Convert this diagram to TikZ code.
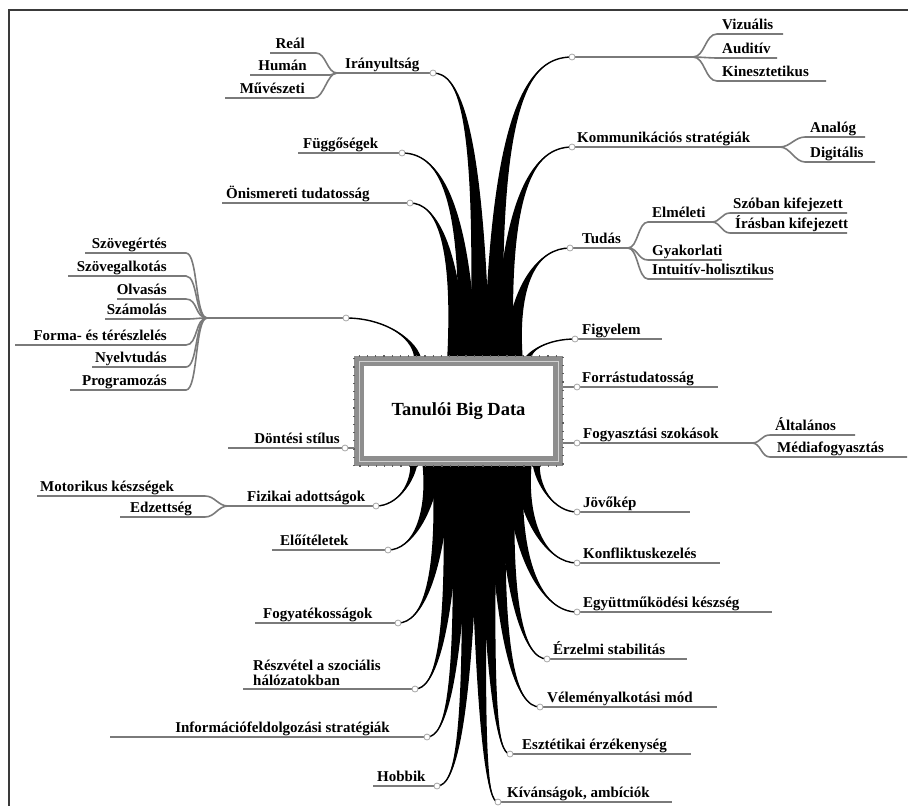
\documentclass[tikz,border=0pt]{standalone}
\usepackage{fontspec}
\setmainfont{Liberation Serif}
\usetikzlibrary{calc}
\definecolor{ulgray}{HTML}{7A7A7A}
\definecolor{boxgray}{HTML}{8E8E8E}
\definecolor{dotgray}{HTML}{5E5E5E}
\definecolor{framegray}{HTML}{3A3A3A}
\newcommand\strand[4]{%
  \fill[trunk] let \p1=(#1), \p2=(#2) in
    ({\x1-#3pt},\y1) .. controls ({\x1-0.35*#3pt},{\y1+#4*(\y2-\y1)}) and ({\x1+0.45*(\x2-\x1)},\y2) .. (\x2,\y2)
    .. controls ({\x1+0.45*(\x2-\x1)},\y2) and ({\x1+0.35*#3pt},{\y1+#4*(\y2-\y1)}) .. ({\x1+#3pt},\y1) -- cycle;
  \draw[trunkline] let \p1=(#1), \p2=(#2) in
    (\x1,\y1) .. controls (\x1,{\y1+#4*(\y2-\y1)}) and ({\x1+0.45*(\x2-\x1)},\y2) .. (\x2,\y2);
}
\begin{document}
\begin{tikzpicture}[x=1pt,y=-1pt,
  lbl/.style={font=\fontsize{15}{15}\selectfont\bfseries, inner sep=0pt},
  ul/.style={draw=ulgray, line width=1.6pt},
  trunk/.style={fill=black},
  trunkline/.style={draw=black, line width=1.4pt},
  dotc/.style={circle, minimum size=6pt, inner sep=0pt, fill=white, draw=gray!70, line width=0.8pt},
  frame/.style={draw=framegray, line width=2pt}
]
\useasboundingbox (0,0) rectangle (908,806);
\draw[frame] (9,806) -- (9,10) -- (908,10);

% ---------- circle positions ----------
\coordinate (cIr) at (433,73);
\coordinate (cFug) at (402,153);
\coordinate (cOni) at (410,203);
\coordinate (cSz) at (346,318);
\coordinate (cDon) at (345,448);
\coordinate (cFiz) at (376,506);
\coordinate (cElo) at (388,550);
\coordinate (cFgy) at (398,623);
\coordinate (cRes) at (415,689);
\coordinate (cInf) at (427,737);
\coordinate (cHob) at (437,786);
\coordinate (cViz) at (572,57);
\coordinate (cKom) at (572,147);
\coordinate (cTud) at (570,248);
\coordinate (cFig) at (575,339);
\coordinate (cFor) at (577,387);
\coordinate (cFog) at (577,443);
\coordinate (cJov) at (577,512);
\coordinate (cKon) at (577,563);
\coordinate (cEgy) at (577,612);
\coordinate (cErz) at (547,659);
\coordinate (cVel) at (540,707);
\coordinate (cEsz) at (510,754);
\coordinate (cKiv) at (498,802);

% ---------- strand starts on the box ----------
\coordinate (sIr) at (480,362);
\coordinate (sFug) at (467,362);
\coordinate (sOni) at (457,362);
\coordinate (sViz) at (494,362);
\coordinate (sKom) at (504,362);
\coordinate (sTud) at (513,362);
\coordinate (sSz) at (418,362);
\coordinate (sFig) at (527,362);
\coordinate (sFiz) at (414,460);
\coordinate (sElo) at (432,460);
\coordinate (sFgy) at (442,460);
\coordinate (sRes) at (452,460);
\coordinate (sInf) at (461,460);
\coordinate (sHob) at (470,460);
\coordinate (sKiv) at (479,460);
\coordinate (sEsz) at (488,460);
\coordinate (sVel) at (497,460);
\coordinate (sErz) at (506,460);
\coordinate (sEgy) at (514,460);
\coordinate (sKon) at (522,460);
\coordinate (sJov) at (536,460);

% ---------- trunk strands ----------
\strand{sIr}{cIr}{10}{0.85}
\strand{sFug}{cFug}{10}{0.8}
\strand{sOni}{cOni}{10}{0.75}
\strand{sViz}{cViz}{10}{0.85}
\strand{sKom}{cKom}{10}{0.8}
\strand{sTud}{cTud}{10}{0.7}
\strand{sSz}{cSz}{4}{0.5}
\strand{sFig}{cFig}{4}{0.5}
\strand{sFiz}{cFiz}{4}{0.5}
\strand{sElo}{cElo}{10}{0.6}
\strand{sFgy}{cFgy}{10}{0.72}
\strand{sRes}{cRes}{10}{0.78}
\strand{sInf}{cInf}{10}{0.82}
\strand{sHob}{cHob}{10}{0.85}
\strand{sKiv}{cKiv}{10}{0.85}
\strand{sEsz}{cEsz}{10}{0.82}
\strand{sVel}{cVel}{10}{0.78}
\strand{sErz}{cErz}{10}{0.72}
\strand{sEgy}{cEgy}{10}{0.66}
\strand{sKon}{cKon}{10}{0.6}
\strand{sJov}{cJov}{4}{0.5}

% ---------- central box ----------
\node (box) [minimum width=199pt, minimum height=100pt, inner sep=0pt, draw=boxgray, line width=10pt, fill=white,
  font=\fontsize{18.5}{20}\selectfont\bfseries] at (458.5,411) {Tanulói Big Data};
\draw[dotgray, line width=1.2pt, dash pattern=on 1.2pt off 7pt] (box.south west) rectangle (box.north east);
\draw[draw=gray!35, line width=0.8pt] ($(box.south west)+(5,-5)$) rectangle ($(box.north east)+(-5,5)$);

% ---------- Irányultság ----------
\coordinate (F1) at (337,73);
\draw[ul] (F1) -- (cIr);
\node[lbl, anchor=base west] (tIr) at (345,68) {Irányultság};
\coordinate (a1) at (316,53); \coordinate (b1) at (270,53);
\coordinate (a2) at (330,75); \coordinate (b2) at (250,75);
\coordinate (a3) at (314,98); \coordinate (b3) at (225,98);
\draw[ul] (F1) .. controls +(-10,0) and +(10,0) .. (a1) -- (b1);
\draw[ul] (F1) .. controls +(-3,0) and +(3,0) .. (a2) -- (b2);
\draw[ul] (F1) .. controls +(-10,0) and +(10,0) .. (a3) -- (b3);
\node[lbl, anchor=base east] (tReal) at (305,48) {Reál};
\node[lbl, anchor=base east] (tHum) at (307,70) {Humán};
\node[lbl, anchor=base east] (tMuv) at (305,93) {Művészeti};

% ---------- Függőségek, Önismereti ----------
\coordinate (bFug) at (298,153);
\draw[ul] (cFug) -- (bFug);
\node[lbl, anchor=base west] (tFug) at (303,148) {Függőségek};
\coordinate (bOni) at (222,203);
\draw[ul] (cOni) -- (bOni);
\node[lbl, anchor=base west] (tOni) at (226,198) {Önismereti tudatosság};

% ---------- Szöveg cluster ----------
\coordinate (F2) at (207,318);
\draw[ul] (F2) -- (cSz);
\foreach \yy/\xl/\nm/\tx in {253/85/s1/Szövegértés, 276/68/s2/Szövegalkotás, 299/117/s3/Olvasás, 319/105/s4/Számolás,
  345/15/s5/Forma- és térészlelés, 367/92/s6/Nyelvtudás, 390/70/s7/Programozás}{
  \coordinate (\nm a) at (186,\yy);
  \coordinate (\nm b) at (\xl,\yy);
  \draw[ul] (F2) .. controls +(-12,0) and +(12,0) .. (\nm a) -- (\nm b);
  \node[lbl, anchor=base east] (\nm t) at (167,\yy-5) {\tx};
}

% ---------- Döntési stílus ----------
\coordinate (eDon) at (354,448);
\coordinate (bDon) at (228,448);
\draw[ul] (eDon) -- (cDon) -- (bDon);
\node[lbl, anchor=base east] (tDon) at (340,443) {Döntési stílus};

% ---------- Fizikai adottságok ----------
\coordinate (F3) at (228,506);
\draw[ul] (cFiz) -- (F3);
\node[lbl, anchor=base west] (tFiz) at (247,501) {Fizikai adottságok};
\coordinate (m1a) at (205,496); \coordinate (m1b) at (37,496);
\coordinate (m2a) at (205,517); \coordinate (m2b) at (120,517);
\draw[ul] (F3) .. controls +(-10,0) and +(10,0) .. (m1a) -- (m1b);
\draw[ul] (F3) .. controls +(-10,0) and +(10,0) .. (m2a) -- (m2b);
\node[lbl, anchor=base west] (tMot) at (40,491) {Motorikus készségek};
\node[lbl, anchor=base west] (tEdz) at (130,512) {Edzettség};

% ---------- lower left ----------
\coordinate (bElo) at (272,550);
\draw[ul] (cElo) -- (bElo);
\node[lbl, anchor=base west] (tElo) at (280,545) {Előítéletek};
\coordinate (bFgy) at (255,623);
\draw[ul] (cFgy) -- (bFgy);
\node[lbl, anchor=base west] (tFgy) at (263,618) {Fogyatékosságok};
\coordinate (bRes) at (243,689);
\draw[ul] (cRes) -- (bRes);
\node[lbl, anchor=south west, align=left] (tRes) at (253,686) {Részvétel a szociális\\hálózatokban};
\coordinate (bInf) at (110,737);
\draw[ul] (cInf) -- (bInf);
\node[lbl, anchor=base east] (tInf) at (390,732) {Információfeldolgozási stratégiák};
\coordinate (bHob) at (373,786);
\draw[ul] (cHob) -- (bHob);
\node[lbl, anchor=base west] (tHob) at (377,781) {Hobbik};

% ---------- Vizuális group ----------
\coordinate (F4) at (693,57);
\draw[ul] (cViz) -- (F4);
\coordinate (v1a) at (717,34); \coordinate (v1b) at (783,34);
\coordinate (v2a) at (717,58); \coordinate (v2b) at (777,58);
\coordinate (v3a) at (717,81); \coordinate (v3b) at (826,81);
\draw[ul] (F4) .. controls +(12,0) and +(-12,0) .. (v1a) -- (v1b);
\draw[ul] (F4) .. controls +(6,0) and +(-6,0) .. (v2a) -- (v2b);
\draw[ul] (F4) .. controls +(12,0) and +(-12,0) .. (v3a) -- (v3b);
\node[lbl, anchor=base west] (tViz) at (722,29) {Vizuális};
\node[lbl, anchor=base west] (tAud) at (722,53) {Auditív};
\node[lbl, anchor=base west] (tKin) at (722,76) {Kinesztetikus};

% ---------- Kommunikációs stratégiák ----------
\coordinate (F5) at (780,147);
\draw[ul] (cKom) -- (F5);
\node[lbl, anchor=base west] (tKom) at (577,142) {Kommunikációs stratégiák};
\coordinate (k1a) at (805,137); \coordinate (k1b) at (865,137);
\coordinate (k2a) at (805,162); \coordinate (k2b) at (875,162);
\draw[ul] (F5) .. controls +(10,0) and +(-10,0) .. (k1a) -- (k1b);
\draw[ul] (F5) .. controls +(10,0) and +(-10,0) .. (k2a) -- (k2b);
\node[lbl, anchor=base west] (tAna) at (810,132) {Analóg};
\node[lbl, anchor=base west] (tDig) at (810,157) {Digitális};

% ---------- Tudás ----------
\coordinate (F6) at (628,248);
\draw[ul] (cTud) -- (F6);
\node[lbl, anchor=base west] (tTud) at (582,243) {Tudás};
\coordinate (F7) at (712,222);
\coordinate (e1a) at (648,222);
\coordinate (e2a) at (648,260); \coordinate (e2b) at (722,260);
\coordinate (e3a) at (648,279); \coordinate (e3b) at (773,279);
\draw[ul] (F6) .. controls +(10,0) and +(-10,0) .. (e1a) -- (F7);
\draw[ul] (F6) .. controls +(10,0) and +(-10,0) .. (e2a) -- (e2b);
\draw[ul] (F6) .. controls +(10,0) and +(-10,0) .. (e3a) -- (e3b);
\node[lbl, anchor=base west] (tElm) at (652,217) {Elméleti};
\node[lbl, anchor=base west] (tGya) at (652,255) {Gyakorlati};
\node[lbl, anchor=base west] (tInt) at (652,274) {Intuitív-holisztikus};
\coordinate (z1a) at (730,213); \coordinate (z1b) at (847,213);
\coordinate (z2a) at (730,233); \coordinate (z2b) at (847,233);
\draw[ul] (F7) .. controls +(8,0) and +(-8,0) .. (z1a) -- (z1b);
\draw[ul] (F7) .. controls +(8,0) and +(-8,0) .. (z2a) -- (z2b);
\node[lbl, anchor=base west] (tSzo) at (733,208) {Szóban kifejezett};
\node[lbl, anchor=base west] (tIra) at (735,228) {Írásban kifejezett};

% ---------- right side singles ----------
\coordinate (bFig) at (662,339);
\draw[ul] (cFig) -- (bFig);
\node[lbl, anchor=base west] (tFig) at (582,334) {Figyelem};

\coordinate (eFor) at (563,387); \coordinate (bFor) at (718,387);
\draw[ul] (eFor) -- (cFor) -- (bFor);
\node[lbl, anchor=base west] (tFor) at (582,382) {Forrástudatosság};

\coordinate (eFog) at (563,443); \coordinate (F8) at (752,443);
\draw[ul] (eFog) -- (cFog) -- (F8);
\node[lbl, anchor=base west] (tFog) at (583,438) {Fogyasztási szokások};
\coordinate (g1a) at (770,435); \coordinate (g1b) at (855,435);
\coordinate (g2a) at (770,457); \coordinate (g2b) at (907,457);
\draw[ul] (F8) .. controls +(9,0) and +(-9,0) .. (g1a) -- (g1b);
\draw[ul] (F8) .. controls +(9,0) and +(-9,0) .. (g2a) -- (g2b);
\node[lbl, anchor=base west] (tAlt) at (775,430) {Általános};
\node[lbl, anchor=base west] (tMed) at (777,452) {Médiafogyasztás};

\coordinate (bJov) at (690,512);
\draw[ul] (cJov) -- (bJov);
\node[lbl, anchor=base west] (tJov) at (583,507) {Jövőkép};
\coordinate (bKon) at (720,563);
\draw[ul] (cKon) -- (bKon);
\node[lbl, anchor=base west] (tKon) at (583,558) {Konfliktuskezelés};
\coordinate (bEgy) at (772,612);
\draw[ul] (cEgy) -- (bEgy);
\node[lbl, anchor=base west] (tEgy) at (583,607) {Együttműködési készség};
\coordinate (bErz) at (687,659);
\draw[ul] (cErz) -- (bErz);
\node[lbl, anchor=base west] (tErz) at (553,654) {Érzelmi stabilitás};
\coordinate (bVel) at (717,707);
\draw[ul] (cVel) -- (bVel);
\node[lbl, anchor=base west] (tVel) at (547,702) {Véleményalkotási mód};
\coordinate (bEsz) at (691,754);
\draw[ul] (cEsz) -- (bEsz);
\node[lbl, anchor=base west] (tEsz) at (522,749) {Esztétikai érzékenység};
\coordinate (bKiv) at (672,802);
\draw[ul] (cKiv) -- (bKiv);
\node[lbl, anchor=base west] (tKiv) at (507,797) {Kívánságok, ambíciók};

% ---------- connector dots ----------
\foreach \c in {cIr,cFug,cOni,cSz,cDon,cFiz,cElo,cFgy,cRes,cInf,cHob,cViz,cKom,cTud,cFig,cFor,cFog,cJov,cKon,cEgy,cErz,cVel,cEsz,cKiv}
  \node[dotc] (\c d) at (\c) {};
\end{tikzpicture}
\end{document}
